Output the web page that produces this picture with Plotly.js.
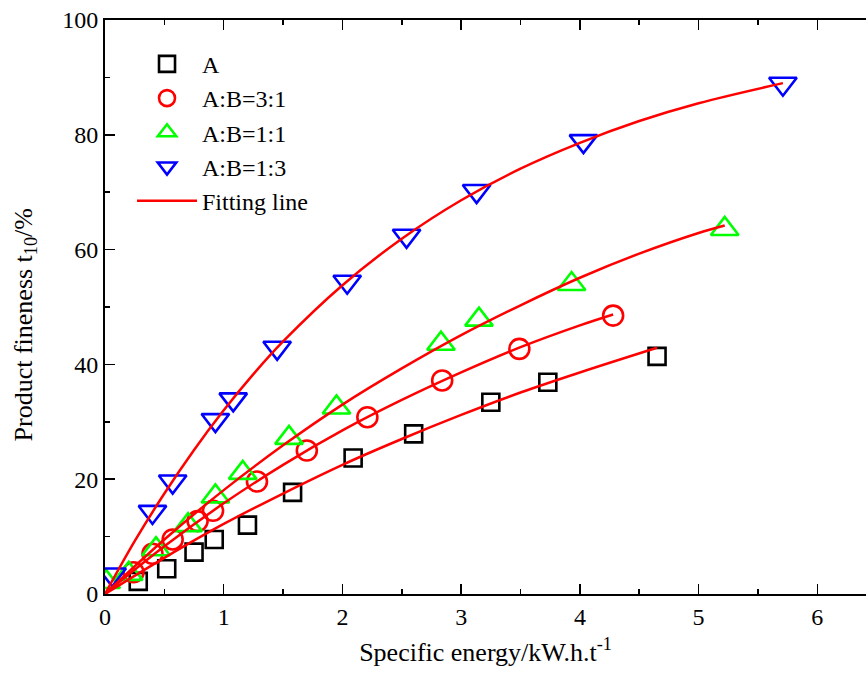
<!DOCTYPE html>
<html>
<head>
<meta charset="utf-8">
<script src="https://cdn.plot.ly/plotly-3.0.1.min.js"></script>
<style>html,body{margin:0;padding:0;background:#fff;}#chart{width:866px;height:677px;}</style>
</head>
<body>
<div id="chart"></div>
<script>
// Measured data points
const xA = [0.28, 0.52, 0.75, 0.92, 1.20, 1.58, 2.09, 2.60, 3.25, 3.73, 4.65];
const yA = [2.2, 4.4, 7.3, 9.5, 12.0, 17.7, 23.7, 27.9, 33.4, 36.9, 41.4];

const x31 = [0.24, 0.40, 0.57, 0.78, 0.91, 1.28, 1.70, 2.21, 2.84, 3.49, 4.28];
const y31 = [3.8, 7.0, 9.5, 12.7, 14.5, 19.6, 25.0, 30.8, 37.2, 42.7, 48.5];

const x11 = [0.01, 0.20, 0.43, 0.70, 0.93, 1.16, 1.55, 1.95, 2.83, 3.15, 3.93, 5.22];
const y11 = [2.1, 3.5, 7.8, 12.0, 17.0, 21.1, 27.2, 32.5, 43.6, 47.8, 54.0, 63.6];

const x13 = [0.06, 0.40, 0.57, 0.93, 1.08, 1.45, 2.04, 2.54, 3.13, 4.03, 5.71];
const y13 = [3.4, 14.3, 19.6, 30.3, 33.9, 42.9, 54.4, 62.4, 70.2, 78.9, 88.9];

// Fitting lines
const fitAx = [0, 0.5, 1, 1.5, 2, 2.5, 3, 3.5, 4, 4.65];
const fitAy = [0, 6.3, 12.2, 17.5, 22.5, 27.0, 31.2, 35.1, 38.6, 42.9];

const fit31x = [0, 0.5, 1, 1.5, 2, 2.5, 3, 3.5, 4, 4.28];
const fit31y = [0, 8.3, 15.8, 22.5, 28.5, 33.8, 38.6, 43.0, 46.8, 48.7];

const fit11x = [0, 0.5, 1, 1.5, 2, 2.5, 3, 3.5, 4, 4.5, 5, 5.22];
const fit11y = [0, 9.5, 18.1, 25.9, 33.0, 39.3, 45.1, 50.3, 55.1, 59.3, 62.9, 64.2];

const fit13x = [0, 0.25, 0.5, 0.75, 1.0, 1.25, 1.5, 2.0, 2.5, 3.0, 3.5, 4.0, 4.5, 5.0, 5.71];
const fit13y = [0, 9.2, 17.5, 25.1, 32.0, 38.3, 44.0, 53.8, 61.9, 68.6, 74.1, 78.6, 82.4, 85.5, 89.0];

const xTicks = [0, 1, 2, 3, 4, 5, 6];
const yTicks = [0, 20, 40, 60, 80, 100];

const FONT = 'Liberation Serif, Times New Roman, serif';
const mk = (sym, col, size) => ({symbol: sym, size: size, color: col, line: {color: col, width: 2.6}});
const fitLine = {color: '#ff0000', width: 2.5, shape: 'spline'};

const traces = [
  {x: xA, y: yA, mode: 'markers', name: 'A', marker: mk('square-open', '#000000', 17), legendgroup: 'g1'},
  {x: x31, y: y31, mode: 'markers', name: 'A:B=3:1', marker: mk('circle-open', '#ff0000', 20), legendgroup: 'g2'},
  {x: x11, y: y11, mode: 'markers', name: 'A:B=1:1', marker: mk('triangle-up-open', '#00ff00', 24), legendgroup: 'g3'},
  {x: x13, y: y13, mode: 'markers', name: 'A:B=1:3', marker: mk('triangle-down-open', '#0000ff', 24), legendgroup: 'g4'},
  {x: fitAx, y: fitAy, mode: 'lines', name: 'Fitting line', line: fitLine, legendgroup: 'g5'},
  {x: fit31x, y: fit31y, mode: 'lines', name: 'Fitting line', line: fitLine, showlegend: false},
  {x: fit11x, y: fit11y, mode: 'lines', name: 'Fitting line', line: fitLine, showlegend: false},
  {x: fit13x, y: fit13y, mode: 'lines', name: 'Fitting line', line: fitLine, showlegend: false}
];

const layout = {
  width: 866, height: 677,
  margin: {l: 105, r: 0, t: 20, b: 83},
  paper_bgcolor: '#ffffff', plot_bgcolor: '#ffffff',
  font: {family: FONT, size: 24, color: '#000'},
  showlegend: true,
  legend: {
    x: 0.0355, y: 0.962, xanchor: 'left', yanchor: 'top',
    bgcolor: 'rgba(0,0,0,0)', borderwidth: 0,
    font: {family: FONT, size: 24, color: '#000'},
    traceorder: 'grouped', tracegroupgap: 0, itemwidth: 60
  },
  xaxis: {
    range: [0, 6.41], autorange: false,
    tickvals: xTicks, ticktext: xTicks.map(String),
    ticks: 'inside', ticklen: 10, tickwidth: 1.5, tickcolor: '#000',
    minor: {dtick: 0.5, ticks: 'inside', ticklen: 5, tickwidth: 1.5, tickcolor: '#000'},
    showline: true, linecolor: '#000', linewidth: 2, mirror: 'ticks',
    showgrid: false, zeroline: false,
    tickfont: {family: FONT, size: 24, color: '#000'},
    title: {text: 'Specific energy/kW.h.t<sup>-1</sup>', font: {family: FONT, size: 26, color: '#000'}, standoff: 14}
  },
  yaxis: {
    range: [0, 100], autorange: false,
    tickvals: yTicks, ticktext: yTicks.map(String),
    ticks: 'inside', ticklen: 10, tickwidth: 1.5, tickcolor: '#000',
    minor: {dtick: 10, ticks: 'inside', ticklen: 5, tickwidth: 1.5, tickcolor: '#000'},
    showline: true, linecolor: '#000', linewidth: 2, mirror: false,
    showgrid: false, zeroline: false,
    tickfont: {family: FONT, size: 24, color: '#000'}
  },
  annotations: [{
    text: 'Product fineness t<sub>10</sub>/%', textangle: -90,
    xref: 'paper', yref: 'paper', x: -0.105, y: 0.468,
    xanchor: 'center', yanchor: 'middle', showarrow: false,
    font: {family: FONT, size: 26, color: '#000'}
  }]
};

Plotly.newPlot('chart', traces, layout, {displayModeBar: false, staticPlot: true});
</script>
</body>
</html>
